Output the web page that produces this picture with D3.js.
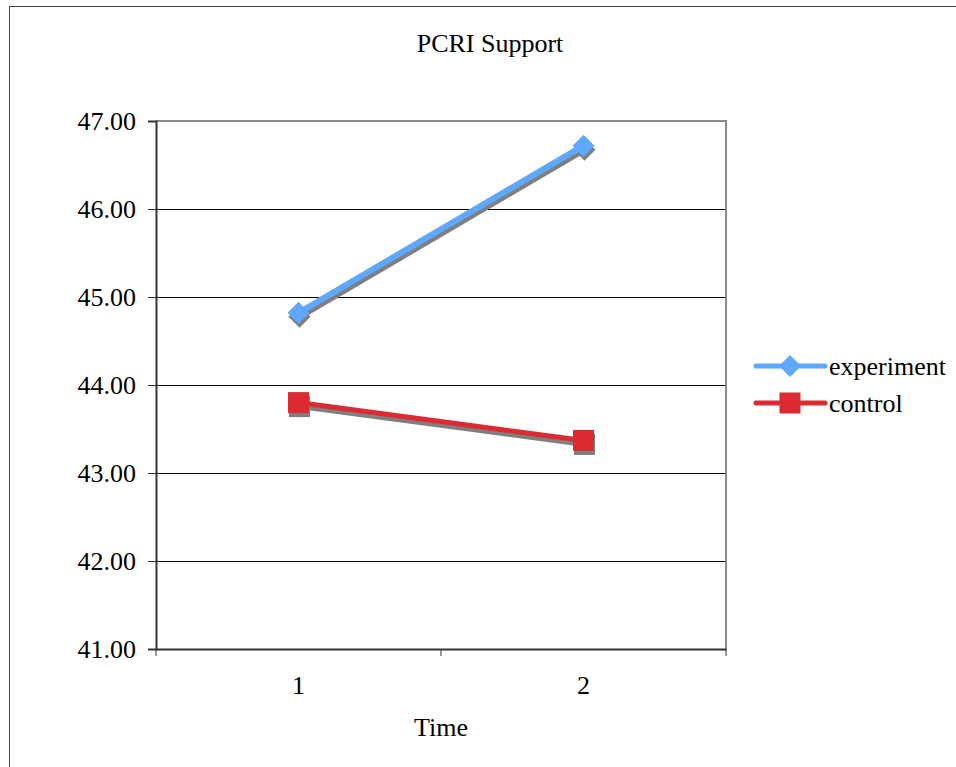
<!DOCTYPE html>
<html>
<head>
<meta charset="utf-8">
<script src="https://cdn.jsdelivr.net/npm/d3@7"></script>
<style>
  body { margin: 0; background: #fff; }
</style>
</head>
<body>
<div id="chart"></div>
<script>
// data
var categories = ["1", "2"];
var experiment = [44.82, 46.72];
var control = [43.80, 43.37];
var yTicks = [41, 42, 43, 44, 45, 46, 47];

var series = [
  {name: "experiment", values: experiment, col: "#5ea8ff", width: 6, shape: "diamond"},
  {name: "control", values: control, col: "#dc2a33", width: 5, shape: "square"}
];

var w = 956, h = 767;
var plot_l = 156, plot_r = 726, plot_t = 121, plot_b = 649;
var font_size = 26;
var serif = "'Liberation Serif', 'Times New Roman', serif";

var the_svg = d3.select("#chart")
  .append("svg")
    .attr("width", w)
    .attr("height", h);

// outer chart border, runs off the right and bottom of the picture
the_svg.append("rect")
  .attr("x", 9.5).attr("y", 6.5)
  .attr("width", 980).attr("height", 800)
  .attr("fill", "none")
  .attr("stroke", "#444")
  .attr("stroke-width", 1);

the_svg.append("text")
  .attr("x", 490).attr("y", 52)
  .attr("text-anchor", "middle")
  .style("font-family", serif)
  .style("font-size", font_size + "px")
  .text("PCRI Support");

var x = d3.scaleBand().domain(categories).range([plot_l, plot_r]);
var y = d3.scaleLinear().domain([41, 47]).range([plot_b, plot_t]);

function cx(i) { return x(categories[i]) + x.bandwidth() / 2; }

// gridlines
the_svg.append("g")
  .selectAll("line")
  .data(yTicks.slice(1, -1))
  .enter().append("line")
    .attr("x1", plot_l).attr("x2", plot_r)
    .attr("y1", function(d) { return Math.round(y(d)) + 0.5; })
    .attr("y2", function(d) { return Math.round(y(d)) + 0.5; })
    .attr("stroke", "#000")
    .attr("stroke-width", 1);

// plot area frame (top and right in gray)
the_svg.append("path")
  .attr("d", "M" + plot_l + "," + plot_t + "H" + plot_r + "V" + plot_b)
  .attr("fill", "none")
  .attr("stroke", "#8a8a8a")
  .attr("stroke-width", 2);

// y axis
var yAxis = the_svg.append("g")
  .attr("transform", "translate(" + plot_l + ",0)")
  .call(d3.axisLeft(y).tickValues(yTicks).tickFormat(d3.format(".2f")).tickSize(8).tickPadding(12));
yAxis.select(".domain").attr("stroke", "#333").attr("stroke-width", 2);
yAxis.selectAll(".tick line").attr("stroke", "#333");
yAxis.selectAll("text").style("font-family", serif).style("font-size", font_size + "px").attr("fill", "#000");

// x axis labels at the band centres
var xAxis = the_svg.append("g")
  .attr("transform", "translate(0," + plot_b + ")")
  .call(d3.axisBottom(x).tickSize(0).tickPadding(27));
xAxis.select(".domain").attr("stroke", "#333").attr("stroke-width", 2);
xAxis.selectAll("text").style("font-family", serif).style("font-size", font_size + "px").attr("fill", "#000");

// x ticks sit on the band edges
var edges = categories.map(function(c) { return x(c); }).concat([plot_r]);
the_svg.append("g")
  .selectAll("line")
  .data(edges)
  .enter().append("line")
    .attr("x1", function(d) { return d; }).attr("x2", function(d) { return d; })
    .attr("y1", plot_b).attr("y2", plot_b + 7)
    .attr("stroke", "#333");

the_svg.append("text")
  .attr("x", (plot_l + plot_r) / 2).attr("y", 736)
  .attr("text-anchor", "middle")
  .style("font-family", serif)
  .style("font-size", font_size + "px")
  .text("Time");

var line = d3.line()
  .x(function(d, i) { return cx(i); })
  .y(function(d) { return y(d); });

function draw_marker(g, shape, px, py, col) {
  if (shape == "diamond") {
    g.append("path")
      .attr("d", "M" + px + "," + (py - 11) + "L" + (px + 11) + "," + py + "L" + px + "," + (py + 11) + "L" + (px - 11) + "," + py + "Z")
      .attr("fill", col);
  } else {
    g.append("rect")
      .attr("x", px - 10.5).attr("y", py - 10.5)
      .attr("width", 21).attr("height", 21)
      .attr("fill", col);
  }
}

// shadows first, then the series on top
series.forEach(function(s) {
  var sh = the_svg.append("g").attr("transform", "translate(1,4)");
  sh.append("path")
    .datum(s.values)
    .attr("d", line)
    .attr("fill", "none")
    .attr("stroke", "#7f7f7f")
    .attr("stroke-width", s.width);
  s.values.forEach(function(v, i) { draw_marker(sh, s.shape, cx(i), y(v), "#7f7f7f"); });
});

series.forEach(function(s) {
  var g = the_svg.append("g");
  g.append("path")
    .datum(s.values)
    .attr("d", line)
    .attr("fill", "none")
    .attr("stroke", s.col)
    .attr("stroke-width", s.width);
  s.values.forEach(function(v, i) { draw_marker(g, s.shape, cx(i), y(v), s.col); });
});

// legend
var legend_y = [366, 403];
series.forEach(function(s, i) {
  var g = the_svg.append("g");
  g.append("line")
    .attr("x1", 756).attr("x2", 825)
    .attr("y1", legend_y[i]).attr("y2", legend_y[i])
    .attr("stroke", s.col)
    .attr("stroke-width", 5)
    .attr("stroke-linecap", "round");
  draw_marker(g, s.shape, 790, legend_y[i], s.col);
  g.append("text")
    .attr("x", 829).attr("y", legend_y[i])
    .attr("dy", "0.35em")
    .style("font-family", serif)
    .style("font-size", font_size + "px")
    .text(s.name);
});
</script>
</body>
</html>
